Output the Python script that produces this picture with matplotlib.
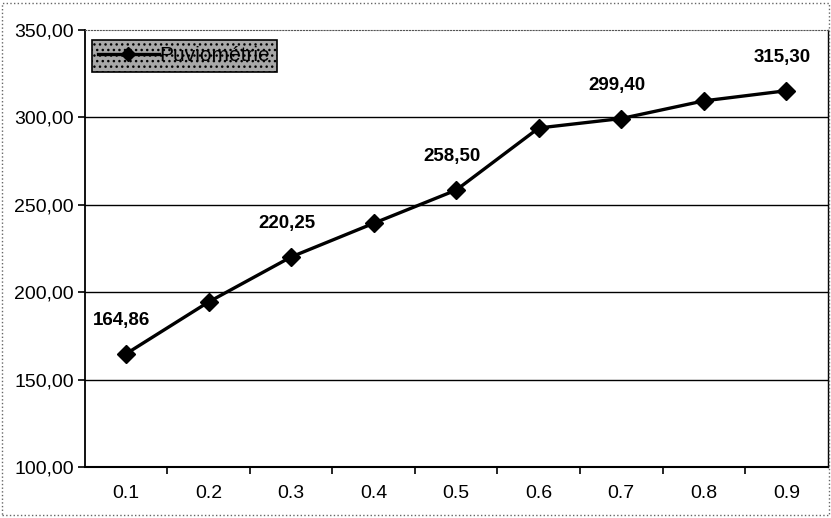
import matplotlib
matplotlib.use("Agg")
from matplotlib import pyplot as plt
from matplotlib.patches import Rectangle

plt.rcParams['font.family'] = ['Liberation Sans', 'DejaVu Sans']

# rainfall per probability level
categories = ["0.1", "0.2", "0.3", "0.4", "0.5", "0.6", "0.7", "0.8", "0.9"]
pluvio = [164.86, 194.5, 220.25, 239.5, 258.50, 294.0, 299.40, 309.5, 315.30]
labelled = [0, 2, 4, 6, 8]
y_ticks = [100, 150, 200, 250, 300, 350]

fig = plt.figure(figsize=(8.31, 5.18), dpi=100)
ax = fig.add_axes([0.102, 0.098, 0.894, 0.844])

xs = list(range(len(categories)))
ax.plot(xs, pluvio, color="black", linewidth=2.4, marker="D", markersize=9,
        label="Puviométrie", zorder=3)

for i in labelled:
    ax.annotate(f"{pluvio[i]:.2f}".replace(".", ","), (xs[i], pluvio[i]),
                xytext=(-3, 24), textcoords="offset points",
                ha="center", va="center", fontsize=13.5, fontweight="bold")

ax.set_xlim(-0.5, len(categories) - 0.5)
ax.set_ylim(100, 350)
ax.set_yticks(y_ticks)
ax.set_yticklabels([f"{v:.2f}".replace(".", ",") for v in y_ticks], fontsize=14)
ax.set_xticks(xs)
ax.set_xticklabels(categories, fontsize=14)
ax.set_xticks([x + 0.5 for x in xs[:-1]], minor=True)
ax.tick_params(axis="x", which="major", length=0, pad=13)
ax.tick_params(axis="x", which="minor", length=5, direction="out", width=1.2)
ax.tick_params(axis="y", length=5, direction="out", width=1.2, pad=3)

for v in y_ticks[1:-1]:
    ax.axhline(v, color="black", linewidth=1.0, zorder=1)

ax.spines["left"].set_linewidth(1.3)
ax.spines["bottom"].set_linewidth(1.5)
ax.spines["right"].set_linewidth(1.0)
ax.spines["top"].set_linestyle(":")
ax.spines["top"].set_color("#555555")

leg = ax.legend(loc="upper left", bbox_to_anchor=(92 / 831, 1 - 40 / 518),
                bbox_transform=fig.transFigure, borderaxespad=0, fontsize=15,
                fancybox=False, handlelength=2.9, handletextpad=0.05,
                borderpad=0.3, markerscale=0.8)
frame = leg.get_frame()
frame.set_facecolor("#a8a8a8")
frame.set_edgecolor("black")
frame.set_linewidth(1.2)
frame.set_alpha(1)
frame.set_hatch("...")

# dotted outline round the chart
fig.patches.append(Rectangle((0.003, 0.006), 0.994, 0.988, transform=fig.transFigure,
                             fill=False, linestyle=":", edgecolor="#666666", linewidth=1.0))

fig.savefig("out.png", dpi=100)
